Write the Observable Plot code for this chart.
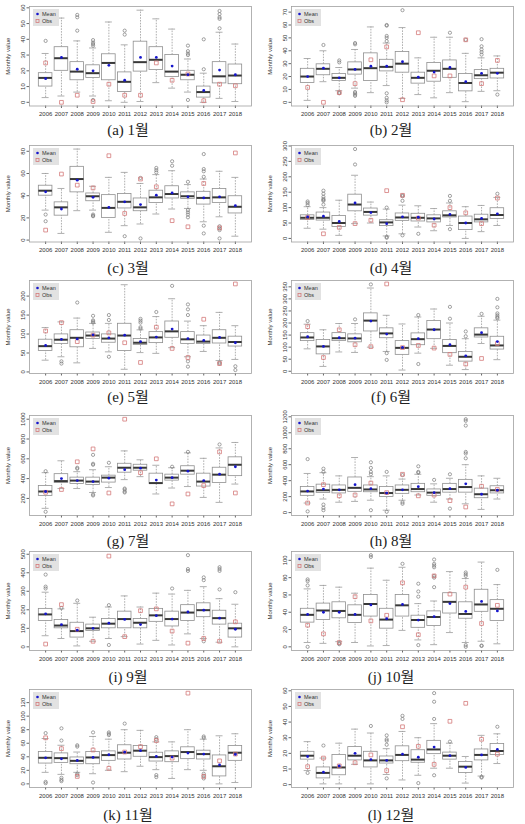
<!DOCTYPE html>
<html><head><meta charset="utf-8">
<script src="https://cdn.jsdelivr.net/npm/d3@7"></script>
<script src="https://cdn.jsdelivr.net/npm/@observablehq/plot@0.6"></script>
<style>
body{margin:0;background:#fff;}
#root{position:relative;width:525px;height:824px;overflow:hidden;background:#fff;}
.panel{position:absolute;}
.cap{position:absolute;font-family:"Liberation Serif","Noto Sans CJK KR",serif;font-size:15px;transform:translate(-50%,-50%);white-space:nowrap;color:#222;}
</style></head>
<body><div id="root"></div>
<script>
// Years (x categories)
const years = ["2006","2007","2008","2009","2010","2011","2012","2013","2014","2015","2016","2017","2018"];
// Rows per year: [lower whisker, Q1, median, Q3, upper whisker, mean, obs]
const jan = [[3,10,15.5,18.5,31,15,25],[4,20,28,35,53.5,28.5,0],[6.5,14,19.5,25.5,39,21,4.5],[4,15.5,18.5,23.5,34.5,20,0.5],[1,14,25,30.5,51,23.5,11.5],[0,6.5,13,19,36.5,14,4.5],[0.5,19.5,25.5,38.5,58.5,28.5,4.5],[12.5,20.5,27,35,53,28.5,25],[9,16,19.5,30,46.5,23,14],[6.5,14,17.5,20,27.5,17.5,18],[0,3,6.5,10,18.5,7.5,1],[2.5,12,16.5,25.5,44.5,20.5,11.5],[0.5,11.5,17,24,37,17.5,10.5]];
const jan_out = [[39],[],[45.5,54,55.5],[36,37,38,39.5,1.5],[],[43,45.5],[],[],[],[30,31,32.5,36,1.5],[21,40],[47,53,54,56,58],[]];
const feb = [[1.5,15,20,26,34,20,11.5],[16,21,26,29.5,40,26.5,0],[9,16.5,19,22,27,19,7.5],[11,21.5,25.5,31,41,25.5,14.5],[7.5,16.5,26.5,38,58.5,28,33],[13,24,27.5,33,46,28,43],[3,23,30,39,58,31.5,2],[6,14.5,19,23,34.5,19.5,54],[3.5,16,24.5,30.5,50.5,23.5,20.5],[7.5,19,26,32.5,50.5,27,20.5],[0.5,8.5,15,22,38,16,48.5],[8.5,18,21,25,34.5,22.5,14.5],[9,18.5,23,26,36,22.5,32.5]];
const feb_out = [[],[44.5],[31,32.5,7,7.5],[45,46,8,7,6,5],[],[47.5,50,51.5,59.5,60,7,3.5,1.5,0],[71.5],[],[],[54],[48.5],[37,39,41,43.5,49],[6]];
const mar = [[27,40,44.5,49,60,43.5,9],[6,22,29.5,34,46.5,28,59.5],[26.5,43,55,66,82,54,49.5],[27,35,39.5,42,48.5,38.5,47],[7,20,29,40.5,56.5,29.5,76],[13,28.5,34.5,41.5,61,34.5,24],[14.5,26,29.5,37.5,51,32,55],[23.5,33.5,38.5,44.5,59,40.5,48],[28,37.5,41.5,48.5,62.5,42.5,17.5],[28.5,37,39.5,43,50,39,12],[16.5,32,38,43.5,55,38,51],[21,33.5,38.5,46,62,39,11],[3.5,24,30,39.5,56.5,31,78.5]];
const mar_out = [[23,17],[],[],[23,22,21.5],[],[3.5],[56,1.5],[61,63,65],[67,71],[52.5,27,25,23,20.5],[57,62,64,77.5,13,6],[12.5,10.5,9,1.5],[]];
const apr = [[33,60,67,75,103,70,68],[30,58,67,84,100,72,15],[10,37,50,73,124,55,36],[48,88,110,142,205,115,48],[50,74,86,97,118,84,59],[8,40,52,59,95,48,155],[15,57,68,81,108,70,140],[37,55,67,80,106,69,66],[25,52,65,75,97,63,43],[42,68,75,88,115,78,100],[0,27,50,71,103,50,83],[22,52,62,77,107,65,48],[42,63,76,98,133,80,131]];
const apr_out = [[108,115,120],[110,122,125,128,135,145,155],[],[240,290],[],[100,5,2],[122,137,140,10],[15],[],[122,138,30],[],[],[145]];
const may = [[31,55,68,85,117,70,108],[40,74,85,99,132,86,130],[24,65,90,110,142,87,80],[62,87,96,104,128,98,97],[53,77,88,99,128,90,103],[7,55,96,127,230,97,77],[51,71,77,87,111,80,25],[49,76,91,105,146,92,118],[64,90,107,133,193,113,62],[40,74,86,105,134,88,38],[54,74,80,96,122,83,139],[30,75,90,110,157,91,22],[33,67,79,93,122,77,232]];
const may_out = [[],[28,22],[183],[130,133,136,148],[40,137,150],[],[114,118,130,135,140],[158],[227],[150,165,178,28,14],[],[25,22],[15,5]];
const jun = [[93,125,140,158,195,143,185],[20,70,103,130,172,103,57],[80,125,137,158,198,139,172],[78,120,136,153,198,137,110],[100,165,210,240,345,208,102],[82,137,157,178,232,154,362],[5,68,97,125,196,99,98],[75,108,133,157,225,135,107],[95,133,173,208,258,172,96],[25,75,105,130,200,110,70],[7,40,60,80,135,64,30],[115,140,152,178,228,160,53],[48,90,107,143,212,123,115]];
const jun_out = [[208],[],[],[215],[360],[75,47],[],[233,30],[],[218,267],[145,165],[238],[220,225,232,240,265,300]];
const jul = [[100,225,270,325,460,270,262],[300,355,375,445,580,400,290],[300,345,380,410,470,380,570],[260,335,370,410,490,370,700],[310,360,410,430,520,405,255],[390,460,510,550,680,490,1000],[420,480,510,540,590,505,460],[245,345,355,450,535,385,600],[305,380,410,440,510,410,145],[320,440,480,525,660,475,245],[210,320,370,450,605,380,330],[160,355,440,510,710,445,670],[345,425,540,615,765,520,255]];
const jul_out = [[475,65],[],[500,510],[540,550,640,240,230],[560],[300,290,270,260],[],[],[520],[670],[],[745],[]];
const aug = [[120,210,265,320,490,270,120],[170,245,280,350,500,295,350],[130,240,285,340,460,285,210],[140,260,310,440,690,350,220],[155,255,290,340,450,300,370],[30,195,245,320,460,245,250],[155,235,285,340,420,285,480],[220,255,295,360,480,325,210],[130,210,250,290,360,250,220],[170,250,295,360,430,300,150],[110,250,320,410,600,360,70],[40,180,230,300,460,230,330],[170,240,280,330,430,280,290]];
const aug_out = [[670,15],[510,550,100,60,30],[],[],[480,510,560,630,30],[510,10],[470,130,110],[500,510,580],[410],[480,50],[680,740,760,1090,1150,1170],[],[]];
const sep = [[60,140,175,205,295,178,15],[45,100,115,145,205,120,228],[5,50,85,130,235,90,95],[30,85,100,120,160,100,30],[45,100,125,150,215,128,490],[55,100,150,190,275,148,55],[15,100,130,150,215,120,195],[35,135,170,205,290,168,205],[10,110,150,190,285,150,85],[70,140,185,225,305,188,20],[45,160,198,235,325,198,45],[25,120,155,195,260,155,30],[0,50,100,125,230,95,135]];
const sep_out = [[315,325,390],[210],[250],[],[225,10],[],[],[],[315],[410,420,495],[360,375,30],[310,410,420,430],[295]];
const oct = [[5,28,37,44,67,37.5,25],[4,31,42,50,71,40,15],[6,33,41.5,51.5,69,40,5],[5,27.5,37,48,62,37.5,58],[1,35,49.5,60,91,48.5,30],[1.5,21,31.5,44,77,32.5,36.5],[19,35,48,60,92,49,74],[8,22,31,36,50,31,14],[2.5,24,34.5,41,53,35,82],[16.5,38.5,52,62,87,50,61],[5,32.5,38,51.5,79,41,69],[6.5,40.5,49,66,98,52.5,27],[3.5,30,44,54,72,41.5,48]];
const oct_out = [[71,76,78,0],[],[4,3],[],[104,106],[],[96],[58,64,73,2],[69,80,82,92,94,96,101],[],[82,84,86,0,2],[1.5,1],[89]];
const nov = [[17,30,38.5,47,67,38.5,68],[14,31,38,45,57,37,52],[17,29,34,39,47,34.5,11],[15,29,39,47,70,39,50],[20,34,42.5,48,66,43,23],[18,36,46,57,80,47,47],[26,40,49,56,79,49,55],[21,33,39.5,46,62,40.5,64],[8,32,41,48,62,39.5,38],[21,36.5,47,54,80,45.5,134],[20,36,44,49,66,44,11],[0,11,26,42,71,28,34],[2,34,46,56,74,43.5,44]];
const nov_out = [[75,3,1],[64,82,9,6,4],[55,57,15,13],[76,2],[72,74,76],[89],[],[66,69,13,10],[],[],[68,70,15,12,8],[],[]];
const dec = [[9,16,18.5,21,27.5,18,11.5],[0.5,4,7.5,11,17,8,17],[0.5,6,11,19,26.5,12,12],[13,15.5,18.5,24,35.5,20,14],[0.5,11,15.5,21,33,16,19],[6.5,13.5,15.5,18,23,15.5,9],[3,15,19,24.5,34,19.5,37],[6,14,16,22,30,17.5,24.5],[10.5,19.5,22.5,28,39,24,13],[10.5,16,18.5,20.5,26.5,18.5,40.5],[1,7.5,11.5,14.5,18,11,52],[5.5,15.5,19,22.5,31.5,19,29],[13.5,19,21.5,26,32.5,22.5,19.5]];
const dec_out = [[7.5],[25],[],[],[37.5],[25.5,28,29,31.5,4],[42,44],[1],[42,53,58.5,6],[27.5],[],[5,4.5],[37]];

// Y tick values per panel
const yTicks = [
  [0,10,20,30,40,50,60],[0,10,20,30,40,50,60,70],[0,20,40,60,80],[0,50,100,150,200,250,300],
  [0,50,100,150,200],[0,50,100,150,200,250,300,350],[200,400,600,800,1000],[0,200,400,600,800,1000,1200],
  [0,100,200,300,400,500],[0,20,40,60,80,100],[0,20,40,60,80,100,120],[0,10,20,30,40,50,60]
];
const captions = ["(a) 1월","(b) 2월","(c) 3월","(d) 4월","(e) 5월","(f) 6월","(g) 7월","(h) 8월","(i) 9월","(j) 10월","(k) 11월","(l) 12월"];
const legendLabels = ["Mean","Obs"];

const monthData = [jan,feb,mar,apr,may,jun,jul,aug,sep,oct,nov,dec];
const monthOut = [jan_out,feb_out,mar_out,apr_out,may_out,jun_out,jul_out,aug_out,sep_out,oct_out,nov_out,dec_out];

// layout
const rowFrameTop = [6, 144.8, 280.4, 415, 551.3, 688.5];
const rowFrameH = [99.5, 96.5, 93, 100, 99, 98];
const rowCapY = [128, 266.3, 395, 538.7, 674.7, 812.7];
const colFrameLeft = [29, 291];
const colCapX = [128, 391];
const frameW = 222;
const ML = 29, MR = 10, MT = 2, MB = 16;
const HW = 0.43, CW = 0.22;

const root = document.getElementById("root");

monthData.forEach((m, k) => {
  const col = k % 2, row = Math.floor(k / 2);
  const rows = m.map((r, i) => ({x: i + 1, lo: r[0], q1: r[1], med: r[2], q3: r[3], hi: r[4], mean: r[5], obs: r[6]}));
  const outs = monthOut[k].flatMap((vs, i) => vs.map(v => ({x: i + 1, v})));
  const all = rows.flatMap(d => [d.lo, d.hi, d.mean, d.obs]).concat(outs.map(d => d.v));
  const lo = d3.min(all), hi = d3.max(all), ext = (hi - lo) * 0.04;
  const fh = rowFrameH[row];
  const chart = Plot.plot({
    width: ML + frameW + MR,
    height: MT + fh + MB,
    marginLeft: ML, marginRight: MR, marginTop: MT, marginBottom: MB,
    style: {fontFamily: "'Liberation Sans', Arial, sans-serif", fontSize: "6px", color: "#333", background: "transparent", overflow: "visible"},
    x: {domain: [-0.02, 14.02]},
    y: {domain: [lo - ext, hi + ext]},
    marks: [
      Plot.axisX(d3.range(1, 14), {tickFormat: i => years[i - 1], tickSize: 2.5, tickPadding: 3.5, label: null, stroke: "#666"}),
      Plot.axisY(yTicks[k], {tickFormat: d => String(d), tickRotate: -90, tickSize: 2.5, tickPadding: 2.5, label: "Monthly value", labelAnchor: "center", labelArrow: "none", labelOffset: 24, stroke: "#666"}),
      Plot.ruleX(rows, {x: "x", y1: "lo", y2: "q1", stroke: "#9a9a9a", strokeWidth: 0.8, strokeDasharray: "1.6,1.2"}),
      Plot.ruleX(rows, {x: "x", y1: "q3", y2: "hi", stroke: "#9a9a9a", strokeWidth: 0.8, strokeDasharray: "1.6,1.2"}),
      Plot.ruleY(rows, {y: "lo", x1: d => d.x - CW, x2: d => d.x + CW, stroke: "#9a9a9a", strokeWidth: 0.8}),
      Plot.ruleY(rows, {y: "hi", x1: d => d.x - CW, x2: d => d.x + CW, stroke: "#9a9a9a", strokeWidth: 0.8}),
      Plot.rect(rows, {x1: d => d.x - HW, x2: d => d.x + HW, y1: "q1", y2: "q3", fill: "white", stroke: "#8f8f8f", strokeWidth: 0.8}),
      Plot.ruleY(rows, {y: "med", x1: d => d.x - HW, x2: d => d.x + HW, stroke: "#383838", strokeWidth: 2}),
      Plot.dot(outs, {x: "x", y: "v", r: 1.6, stroke: "#7a7a7a", strokeWidth: 0.7, fill: "none"}),
      Plot.dot(rows, {x: "x", y: "obs", symbol: "square", r: 2.1, stroke: "#d47a7a", strokeWidth: 0.8, fill: "none"}),
      Plot.dot(rows, {x: "x", y: "mean", r: 1.4, fill: "#1515cc", stroke: "none"}),
      Plot.frame({stroke: "#a0a0a0", strokeWidth: 0.8})
    ]
  });
  // legend (top-left inside frame)
  const svg = d3.select(chart);
  const g = svg.append("g").attr("transform", `translate(${ML + 4},${MT + 3})`)
    .attr("text-anchor", "start")
    .style("font-family", "'Liberation Sans', Arial, sans-serif").style("font-size", "5.5px");
  g.append("rect").attr("width", 26).attr("height", 17).attr("fill", "#e2e2e2");
  g.append("circle").attr("cx", 4.5).attr("cy", 5).attr("r", 1.3).attr("fill", "#1515cc");
  g.append("text").attr("x", 9).attr("y", 5).attr("dy", "0.35em").attr("text-anchor", "start").attr("fill", "#333").text(legendLabels[0]);
  g.append("rect").attr("x", 3).attr("y", 10.5).attr("width", 3).attr("height", 3).attr("fill", "none").attr("stroke", "#d47a7a").attr("stroke-width", 0.8);
  g.append("text").attr("x", 9).attr("y", 12).attr("dy", "0.35em").attr("text-anchor", "start").attr("fill", "#333").text(legendLabels[1]);

  const div = document.createElement("div");
  div.className = "panel";
  div.style.left = (colFrameLeft[col] - ML) + "px";
  div.style.top = (rowFrameTop[row] - MT) + "px";
  div.appendChild(chart);
  root.appendChild(div);

  const cap = document.createElement("div");
  cap.className = "cap";
  cap.style.left = colCapX[col] + "px";
  cap.style.top = rowCapY[row] + "px";
  cap.textContent = captions[k];
  root.appendChild(cap);
});
</script>
</body></html>
